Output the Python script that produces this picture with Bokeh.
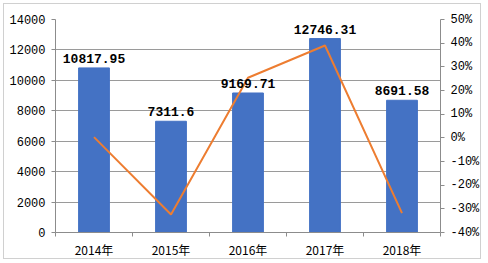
from bokeh.plotting import figure
from bokeh.models import (Range1d, LinearAxis, FixedTicker, ColumnDataSource,
                          PrintfTickFormatter)
from bokeh.core.properties import value
from bokeh.embed import file_html
from bokeh.resources import INLINE

categories = ["2014年", "2015年", "2016年", "2017年", "2018年"]
amounts = [10817.95, 7311.6, 9169.71, 12746.31, 8691.58]
growth = [0.3, -32.4, 25.4, 39.0, -31.8]
amount_labels = ["10817.95", "7311.6", "9169.71", "12746.31", "8691.58"]
left_ticks = [0, 2000, 4000, 6000, 8000, 10000, 12000, 14000]
right_ticks = [-40, -30, -20, -10, 0, 10, 20, 30, 40, 50]

xs = [i + 0.5 for i in range(len(categories))]
src = ColumnDataSource(dict(x=xs, amt=amounts, g=growth, lab=amount_labels))

p = figure(width=478, height=256, output_backend="svg", toolbar_location=None,
           x_range=Range1d(0, len(categories)), y_range=Range1d(0, 14000),
           min_border_left=51, min_border_right=42, min_border_top=15,
           min_border_bottom=23, margin=(3, 0, 0, 3),
           styles={"border": "1px solid #d0d0d0"})
p.outline_line_color = None
p.background_fill_color = "white"
p.border_fill_color = "white"

p.extra_y_ranges = {"pct": Range1d(-40, 50)}

GRAY = "#8c8c8c"
FONT_TICK = "Liberation Mono"

# bottom axis
p.xaxis.ticker = FixedTicker(ticks=xs, minor_ticks=list(range(len(categories) + 1)))
p.xaxis.major_label_overrides = {x: c for x, c in zip(xs, categories)}
p.xaxis.major_tick_line_color = None
p.xaxis.minor_tick_line_color = GRAY
p.xaxis.minor_tick_in = 0
p.xaxis.minor_tick_out = 4
p.xaxis.axis_line_color = GRAY
p.xaxis.major_label_text_font = "Noto Sans CJK SC"
p.xaxis.major_label_text_font_size = "12px"
p.xaxis.major_label_text_color = "#000000"
p.xaxis.major_label_standoff = 2

# left axis
p.yaxis.ticker = FixedTicker(ticks=left_ticks)
p.yaxis.minor_tick_line_color = None
p.yaxis.major_tick_in = 0
p.yaxis.major_tick_out = 4
p.yaxis.major_tick_line_color = GRAY
p.yaxis.axis_line_color = GRAY
p.yaxis.major_label_text_font = FONT_TICK
p.yaxis.major_label_text_font_size = "12px"
p.yaxis.major_label_text_color = "#000000"
p.yaxis.major_label_standoff = 6

# right axis
ra = LinearAxis(y_range_name="pct", ticker=FixedTicker(ticks=right_ticks),
                formatter=PrintfTickFormatter(format="%d%%"))
ra.minor_tick_line_color = None
ra.major_tick_in = 0
ra.major_tick_out = 4
ra.major_tick_line_color = GRAY
ra.axis_line_color = GRAY
ra.major_label_text_font = FONT_TICK
ra.major_label_text_font_size = "12px"
ra.major_label_text_color = "#000000"
ra.major_label_standoff = 6
p.add_layout(ra, "right")

p.xgrid.grid_line_color = None
p.ygrid.grid_line_color = "#9a9a9a"
p.ygrid.grid_line_width = 1

p.vbar(x="x", top="amt", width=0.4, color="#4472C4", source=src)
p.line(x="x", y="g", y_range_name="pct", line_color="#ED7D31", line_width=2, source=src)
p.text(x="x", y="amt", text="lab", source=src, text_align="center",
       text_baseline="bottom", y_offset=-5, text_font=value("Liberation Mono"),
       text_font_style="bold", text_font_size="13px", text_color="#000000")

open("out.html", "w").write(file_html(p, INLINE))
